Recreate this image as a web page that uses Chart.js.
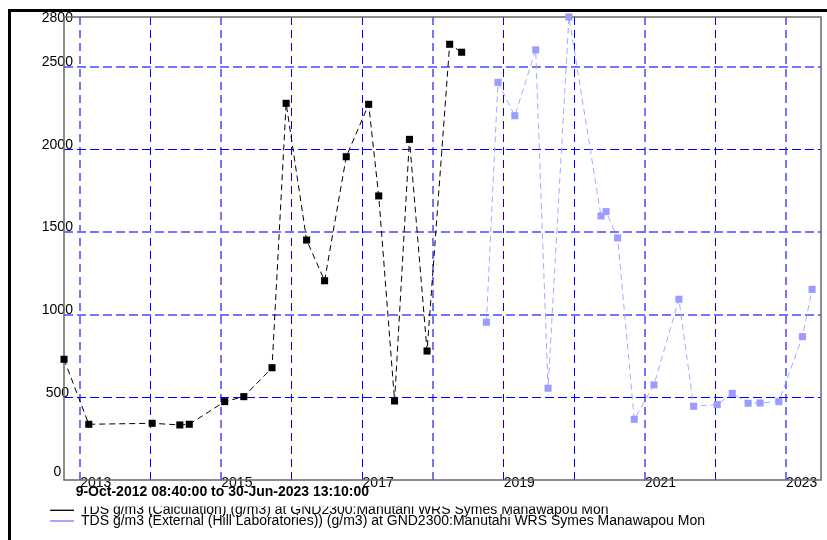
<!DOCTYPE html>
<html><head><meta charset="utf-8">
<script src="https://cdn.jsdelivr.net/npm/chart.js@4.4.1/dist/chart.umd.min.js"></script>
<style>html,body{margin:0;padding:0;background:#fff;}canvas{display:block;}</style>
</head><body>
<canvas id="c" width="827" height="540"></canvas>
<script>
// ---- data ----
const calcDates = ['2012-10-09','2013-02-14','2014-01-08','2014-05-31','2014-07-19','2015-01-18','2015-04-27','2015-09-20','2015-12-02','2016-03-17','2016-06-18','2016-10-08','2017-02-01','2017-03-25','2017-06-15','2017-08-31','2017-11-30','2018-03-27','2018-05-28'];
const calcValues = [730,337,343,333,337,474,504,679,2278,1451,1205,1955,2272,1718,478,2060,780,2635,2587];
const extDates = ['2018-10-03','2018-12-02','2019-02-27','2019-06-15','2019-08-18','2019-12-04','2020-05-18','2020-06-13','2020-08-12','2020-11-06','2021-02-16','2021-06-25','2021-09-09','2022-01-09','2022-03-28','2022-06-18','2022-08-19','2022-11-24','2023-03-26','2023-05-15'];
const extValues = [954,2405,2203,2601,555,2800,1597,1623,1464,367,575,1093,446,456,524,464,466,474,867,1153];
const seriesNames = [
  'TDS g/m3 (Calculation) (g/m3) at GND2300:Manutahi WRS Symes Manawapou Mon',
  'TDS g/m3 (External (Hill Laboratories)) (g/m3) at GND2300:Manutahi WRS Symes Manawapou Mon'
];
const yTickValues = [0,500,1000,1500,2000,2500,2800];
const yTickLabels = ['0','500','1000','1500','2000','2500','2800'];
const xTickYears = [2013,2014,2015,2016,2017,2018,2019,2020,2021,2022,2023];
const xTickLabels = ['2013','','2015','','2017','','2019','','2021','','2023'];
const rangeCaption = '9-Oct-2012 08:40:00 to 30-Jun-2023 13:10:00';
const xStart = '2012-10-09T08:40:00Z';
const xEnd = '2023-06-30T13:10:00Z';

// ---- build ----
const toPts = (d, v) => d.map((s, i) => ({x: Date.parse(s + 'T12:00:00Z'), y: v[i]}));
const FONT = 'Liberation Sans, Arial, sans-serif';
const lightX = new Set([2013,2015,2018,2021,2023]);
const lightY = new Set([1000,1500,2500]);
// vertical nudge of y tick labels (px, negative = up)
const yNudge = {0:-8.3, 2800:1.3};
const nudgeOf = (v) => (v in yNudge) ? yNudge[v] : -4.4;

const framePlugin = {
  id: 'frame',
  beforeDraw(chart) {
    const c = chart.ctx;
    c.save();
    c.fillStyle = '#000';
    c.fillRect(8, 9, 3, 540);
    c.fillRect(8, 9, 827, 3);
    c.restore();
  },
  beforeDatasetsDraw(chart) {
    const a = chart.chartArea, c = chart.ctx;
    c.save();
    c.strokeStyle = '#686868';
    c.lineWidth = 1.5;
    c.strokeRect(a.left, a.top, a.right - a.left, a.bottom - a.top);
    c.restore();
  }
};

new Chart(document.getElementById('c'), {
  type: 'line',
  data: {
    datasets: [
      {label: seriesNames[0], data: toPts(calcDates, calcValues), borderColor: '#000', backgroundColor: '#000',
       borderWidth: 1, borderDash: [6,4], pointStyle: 'rect', pointRadius: 5, pointBorderWidth: 0,
       pointBackgroundColor: '#000', tension: 0, clip: false},
      {label: seriesNames[1], data: toPts(extDates, extValues), borderColor: '#a8a8ff', backgroundColor: '#9c9cff',
       borderWidth: 1, borderDash: [6,4], pointStyle: 'rect', pointRadius: 5, pointBorderWidth: 0,
       pointBackgroundColor: '#9c9cff', tension: 0, clip: false}
    ]
  },
  options: {
    responsive: false,
    animation: false,
    devicePixelRatio: 1,
    layout: {padding: {left: 50.3, top: 17, right: 6, bottom: 2}},
    font: {family: FONT, size: 14},
    scales: {
      x: {
        type: 'linear',
        min: Date.parse(xStart),
        max: Date.parse(xEnd),
        afterBuildTicks: (s) => { s.ticks = xTickYears.map(y => ({value: Date.UTC(y, 0, 1)})); },
        afterFit: (s) => { s.height = 26.6; },
        ticks: {
          autoSkip: false, maxRotation: 0, minRotation: 0, align: 'start', mirror: true, padding: -11.4,
          color: '#000', font: {family: FONT, size: 14},
          callback: (v, i) => xTickLabels[i]
        },
        grid: {
          drawTicks: false,
          color: (ctx) => lightX.has(xTickYears[ctx.index]) ? '#7474ff' : '#0000ff',
          lineWidth: (ctx) => lightX.has(xTickYears[ctx.index]) ? 2 : 1
        },
        border: {display: false, dash: [8,5]},
        title: {display: true, text: '   ' + rangeCaption, align: 'start', color: '#000',
                font: {family: FONT, size: 14, weight: 'bold'}, padding: {top: 0, bottom: 6.2}}
      },
      y: {
        min: 0, max: 2800,
        afterBuildTicks: (s) => { s.ticks = yTickValues.map(v => ({value: v})); },
        afterFit: (s) => { s.width = 13.7; },
        ticks: {
          crossAlign: 'center', mirror: true, padding: -22.2, color: '#000',
          font: (ctx) => ({family: FONT, size: 14, lineHeight: Math.abs(nudgeOf(yTickValues[ctx.index]) * 2) + 'px'}),
          callback: (v, i) => nudgeOf(v) < 0 ? [yTickLabels[i], ''] : ['', yTickLabels[i]]
        },
        grid: {
          drawTicks: false,
          color: (ctx) => {
            const v = yTickValues[ctx.index];
            if (v === 0 || v === 2800) return 'rgba(0,0,0,0)';
            return lightY.has(v) ? '#7474ff' : '#0000ff';
          },
          lineWidth: (ctx) => lightY.has(yTickValues[ctx.index]) ? 2 : 1
        },
        border: {display: false, dash: [9,4]}
      }
    },
    plugins: {
      legend: {
        position: 'bottom', align: 'start',
        labels: {
          boxWidth: 27, boxHeight: 0, padding: -3.3, color: '#000',
          font: {family: FONT, size: 14},
          generateLabels: (chart) => chart.data.datasets.map((ds, i) => ({
            text: ds.label, fillStyle: ds.borderColor, strokeStyle: i === 0 ? '#000' : '#8888ff',
            lineWidth: 1, lineDash: [], hidden: false, datasetIndex: i
          }))
        }
      },
      tooltip: {enabled: false}
    }
  },
  plugins: [framePlugin]
});
</script>
</body></html>
